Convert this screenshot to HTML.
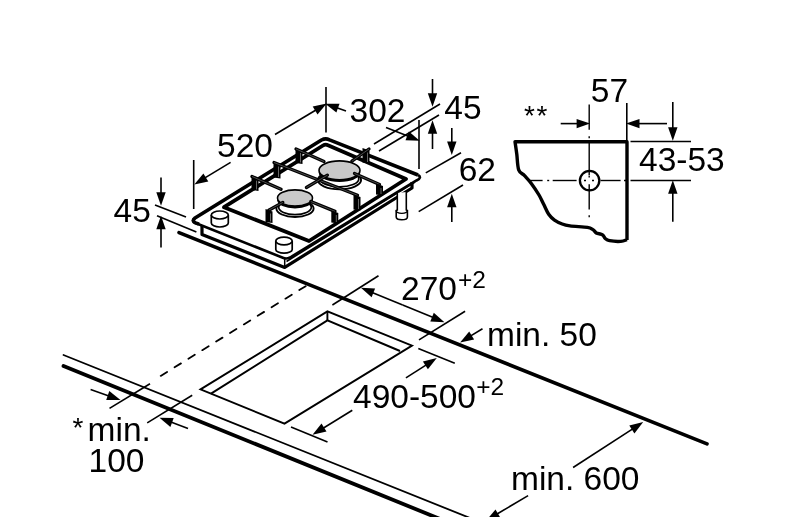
<!DOCTYPE html>
<html><head><meta charset="utf-8"><style>
html,body{margin:0;padding:0;background:#fff;}
svg{display:block;will-change:transform;}
text{font-family:"Liberation Sans",sans-serif;fill:#000;stroke:none;}
</style></head><body>
<svg width="800" height="517" viewBox="0 0 800 517" stroke="#000" stroke-linecap="butt">
<rect width="800" height="517" fill="#fff" stroke="none"/>
<line x1="179.0" y1="232.6" x2="707.0" y2="443.8" stroke-width="3.6" stroke-linecap="round"/>
<line x1="63.5" y1="355.0" x2="480.0" y2="522.0" stroke-width="1.8" stroke-linecap="round"/>
<line x1="63.5" y1="366.0" x2="445.0" y2="521.0" stroke-width="3.8" stroke-linecap="round"/>
<line x1="160.7" y1="375.9" x2="306.7" y2="285.5" stroke-width="1.8" stroke-dasharray="7.5 8.8" stroke-linecap="round"/>
<line x1="155.0" y1="205.0" x2="186.0" y2="217.0" stroke-width="1.6" />
<line x1="157.0" y1="215.8" x2="196.4" y2="231.9" stroke-width="1.6" />
<line x1="161.0" y1="177.5" x2="161.0" y2="194.3" stroke-width="1.6"/>
<polygon points="161.0,205.8 156.3,192.3 165.7,192.3" fill="#000" stroke="none"/>
<line x1="161.0" y1="247.5" x2="161.0" y2="227.2" stroke-width="1.6"/>
<polygon points="161.0,215.7 165.7,229.2 156.3,229.2" fill="#000" stroke="none"/>
<text x="113.6" y="222.2" font-size="33.5" >45</text>
<line x1="193.7" y1="160.0" x2="193.7" y2="209.0" stroke-width="1.6" />
<line x1="230.6" y1="162.4" x2="204.1" y2="178.4" stroke-width="1.6"/>
<polygon points="194.3,184.4 203.4,173.4 208.3,181.4" fill="#000" stroke="none"/>
<line x1="275.0" y1="134.5" x2="316.8" y2="109.5" stroke-width="1.6"/>
<polygon points="326.7,103.6 317.5,114.6 312.7,106.5" fill="#000" stroke="none"/>
<line x1="326.0" y1="87.0" x2="326.0" y2="132.5" stroke-width="1.6" />
<line x1="346.0" y1="111.0" x2="336.1" y2="107.5" stroke-width="1.6"/>
<polygon points="325.2,103.7 339.5,103.8 336.4,112.6" fill="#000" stroke="none"/>
<text x="217" y="157.4" font-size="33.5" >520</text>
<text x="349.5" y="122.2" font-size="33.5" >302</text>
<line x1="374.0" y1="144.0" x2="440.0" y2="104.0" stroke-width="1.6" />
<line x1="379.0" y1="151.0" x2="439.0" y2="115.0" stroke-width="1.6" />
<line x1="432.5" y1="79.0" x2="432.5" y2="95.3" stroke-width="1.6"/>
<polygon points="432.5,106.8 427.8,93.3 437.2,93.3" fill="#000" stroke="none"/>
<line x1="432.5" y1="149.0" x2="432.5" y2="131.7" stroke-width="1.6"/>
<polygon points="432.5,120.2 437.2,133.7 427.8,133.7" fill="#000" stroke="none"/>
<line x1="419.0" y1="120.0" x2="419.0" y2="169.0" stroke-width="1.6" />
<line x1="386.0" y1="127.5" x2="409.0" y2="136.6" stroke-width="1.6"/>
<polygon points="419.7,140.8 405.5,140.2 408.9,131.5" fill="#000" stroke="none"/>
<text x="444.3" y="119" font-size="33.5" >45</text>
<line x1="425.8" y1="172.9" x2="461.0" y2="152.8" stroke-width="1.6" />
<line x1="418.7" y1="211.6" x2="463.0" y2="185.0" stroke-width="1.6" />
<line x1="451.8" y1="128.0" x2="451.8" y2="143.6" stroke-width="1.6"/>
<polygon points="451.8,155.1 447.1,141.6 456.5,141.6" fill="#000" stroke="none"/>
<line x1="451.8" y1="222.0" x2="451.8" y2="205.2" stroke-width="1.6"/>
<polygon points="451.8,193.7 456.5,207.2 447.1,207.2" fill="#000" stroke="none"/>
<text x="458.7" y="181.2" font-size="33.5" >62</text>
<text x="590.8" y="101.5" font-size="33.5" >57</text>
<text x="524" y="124.5" font-size="28" letter-spacing="1.6">**</text>
<line x1="560.7" y1="123.6" x2="578.6" y2="123.6" stroke-width="1.6"/>
<polygon points="590.1,123.6 576.6,128.3 576.6,118.9" fill="#000" stroke="none"/>
<line x1="626.8" y1="103.0" x2="626.8" y2="141.0" stroke-width="1.6" />
<line x1="667.0" y1="123.6" x2="637.5" y2="123.6" stroke-width="1.6"/>
<polygon points="626.0,123.6 639.5,118.9 639.5,128.3" fill="#000" stroke="none"/>
<line x1="672.8" y1="102.0" x2="672.8" y2="129.3" stroke-width="1.6"/>
<polygon points="672.8,140.8 668.1,127.3 677.5,127.3" fill="#000" stroke="none"/>
<line x1="630.5" y1="141.5" x2="691.0" y2="141.5" stroke-width="1.6" />
<line x1="630.5" y1="180.5" x2="691.0" y2="180.5" stroke-width="1.6" />
<line x1="672.8" y1="221.8" x2="672.8" y2="191.7" stroke-width="1.6"/>
<polygon points="672.8,180.2 677.5,193.7 668.1,193.7" fill="#000" stroke="none"/>
<text x="639" y="171.4" font-size="33.5" >43-53</text>
<path d="M627,240 L627,141.7 L515,141.7  C515.3,143.8 516.2,149.6 516.8,154.3 C517.4,159.0 517.4,166.2 518.7,169.8 C520.0,173.4 522.4,173.3 524.5,175.6 C526.6,177.9 528.9,180.2 531.3,183.4 C533.7,186.6 536.9,191.5 539.0,195.0 C541.1,198.5 542.2,201.4 543.8,204.6 C545.4,207.8 546.9,211.7 548.7,214.3 C550.5,216.9 552.2,218.5 554.5,220.1 C556.8,221.7 559.6,223.0 562.2,224.0 C564.8,225.0 565.8,225.3 570.0,225.9 C574.2,226.5 583.6,226.8 587.4,227.4 C591.2,228.0 591.4,228.7 592.9,229.6 C594.4,230.5 595.0,232.2 596.3,233.0 C597.6,233.8 599.6,233.7 600.7,234.1 C601.8,234.5 602.2,234.5 603.0,235.2 C603.8,235.9 604.1,237.6 605.2,238.5 C606.3,239.4 607.0,240.2 609.6,240.7 C612.2,241.2 617.9,241.6 620.8,241.4 C623.7,241.2 626.0,239.9 627.0,239.6" fill="none" stroke-width="3.4" stroke-linejoin="round"/>
<line x1="529.0" y1="180.5" x2="542.6" y2="180.5" stroke-width="1.4" />
<line x1="552.7" y1="180.5" x2="576.6" y2="180.5" stroke-width="1.4" />
<line x1="600.5" y1="180.5" x2="620.6" y2="180.5" stroke-width="1.4" />
<line x1="547.2" y1="180.5" x2="549.2" y2="180.5" stroke-width="1.4" />
<line x1="584.0" y1="180.5" x2="586.0" y2="180.5" stroke-width="1.4" />
<line x1="592.0" y1="180.5" x2="594.0" y2="180.5" stroke-width="1.4" />
<line x1="624.0" y1="180.5" x2="626.0" y2="180.5" stroke-width="1.4" />
<line x1="589.2" y1="104.5" x2="589.2" y2="129.7" stroke-width="1.4" />
<line x1="589.2" y1="141.5" x2="589.2" y2="175.0" stroke-width="1.4" />
<line x1="589.2" y1="184.3" x2="589.2" y2="209.4" stroke-width="1.4" />
<line x1="589.2" y1="136.2" x2="589.2" y2="138.2" stroke-width="1.4" />
<line x1="589.2" y1="175.5" x2="589.2" y2="177.5" stroke-width="1.4" />
<line x1="589.2" y1="215.2" x2="589.2" y2="217.2" stroke-width="1.4" />
<circle cx="589.6" cy="180.6" r="9.7" fill="none" stroke-width="2.3"/>
<polygon points="200.5,389.4 327.4,311.4 412.0,345.6 284.5,423.6" fill="none" stroke-width="1.9" stroke-linejoin="miter"/>
<polyline points="211.0,393.6 327.4,320.4 400.0,351.0" fill="none" stroke-width="1.9" />
<line x1="327.4" y1="311.4" x2="327.4" y2="320.4" stroke-width="1.9" />
<line x1="332.4" y1="305.0" x2="378.5" y2="275.8" stroke-width="1.6" />
<line x1="419.0" y1="339.9" x2="465.1" y2="311.3" stroke-width="1.6" />
<line x1="402.7" y1="305.0" x2="371.5" y2="292.2" stroke-width="1.6"/>
<polygon points="360.9,287.8 375.1,288.6 371.6,297.3" fill="#000" stroke="none"/>
<line x1="402.7" y1="305.0" x2="433.9" y2="317.8" stroke-width="1.6"/>
<polygon points="444.5,322.2 430.3,321.4 433.8,312.7" fill="#000" stroke="none"/>
<text x="401" y="300.2" font-size="33.5" >270</text>
<text x="458" y="288" font-size="24.5" >+2</text>
<line x1="482.5" y1="328.8" x2="469.9" y2="336.4" stroke-width="1.6"/>
<polygon points="460.1,342.4 469.2,331.4 474.1,339.4" fill="#000" stroke="none"/>
<text x="487" y="346.3" font-size="33.5" >min. 50</text>
<line x1="418.3" y1="348.4" x2="454.8" y2="363.3" stroke-width="1.6" />
<line x1="291.0" y1="427.0" x2="327.5" y2="442.0" stroke-width="1.6" />
<line x1="405.9" y1="377.8" x2="427.1" y2="364.3" stroke-width="1.6"/>
<polygon points="436.8,358.1 427.9,369.3 422.9,361.4" fill="#000" stroke="none"/>
<line x1="352.3" y1="410.2" x2="322.3" y2="428.7" stroke-width="1.6"/>
<polygon points="312.5,434.7 321.5,423.6 326.5,431.6" fill="#000" stroke="none"/>
<text x="353" y="408" font-size="33.5" >490-500</text>
<text x="476.2" y="395" font-size="24.5" >+2</text>
<line x1="109.5" y1="408.4" x2="150.0" y2="383.7" stroke-width="1.6" />
<line x1="90.6" y1="389.5" x2="109.6" y2="396.2" stroke-width="1.6"/>
<polygon points="120.5,400.0 106.2,399.9 109.3,391.1" fill="#000" stroke="none"/>
<line x1="147.2" y1="422.9" x2="192.2" y2="395.3" stroke-width="1.6" />
<line x1="188.0" y1="428.5" x2="170.2" y2="421.8" stroke-width="1.6"/>
<polygon points="159.5,417.7 173.7,418.1 170.4,426.9" fill="#000" stroke="none"/>
<text x="72.5" y="436.5" font-size="28" >*</text>
<text x="87.6" y="440.7" font-size="33.5" >min.</text>
<text x="88.6" y="472.2" font-size="33.5" >100</text>
<polyline points="202.0,225.5 202.0,234.5 284.7,267.4 412.0,188.0 412.0,182.0" fill="none" stroke-width="3.2" stroke-linejoin="round"/>
<line x1="284.7" y1="259.0" x2="284.7" y2="266.0" stroke-width="1.5" />
<polyline points="286.5,261.5 415.0,182.0" fill="none" stroke-width="1.5" />
<path d="M194,218.8 Q191.5,221.5 195.5,223 L283.5,258 Q286.5,259.2 290,257.5 L416.5,180.5 Q422.5,177.5 418,175" fill="none" stroke-width="2.6" />
<path d="M199,224.2 L195.5,222.8 Q191.3,220.8 195,218 L321.5,140 Q325.5,137.8 329.5,139.8 L418,175" fill="none" stroke-width="3.6" stroke-linejoin="round"/>
<path d="M224,207.2 L323,145.5 Q325.5,144 328,145.2 L406,179 L309,241 Z" fill="none" stroke-width="3.8" stroke-linejoin="round"/>
<path d="M397.3,193 L397.3,210 L396.2,210.5 L396.2,217 A5.6,2.8 0 0 0 407.4,217 L407.4,210.5 L406.3,210 L406.3,192" fill="#fff" stroke-width="1.6" />
<path d="M396.2,210.5 A5.6,2.8 0 0 0 407.4,210.5" fill="none" stroke-width="1.3" />
<path d="M211.3,215 L211.3,223 A8.5,4 0 0 0 228.3,223 L228.3,215" fill="#fff" stroke-width="1.7" />
<ellipse cx="219.8" cy="215" rx="8.5" ry="4" fill="#fff" stroke-width="1.7"/>
<path d="M275.8,241 L275.8,249.4 A8.2,3.8 0 0 0 292.2,249.4 L292.2,241" fill="#fff" stroke-width="1.7" />
<ellipse cx="284" cy="241" rx="8.2" ry="3.8" fill="#fff" stroke-width="1.7"/>
<ellipse cx="339.5" cy="180.10000000000002" rx="21.6" ry="9.2" fill="#fff" stroke-width="1.9"/>
<ellipse cx="339.5" cy="178.9" rx="19.3" ry="7.999999999999999" fill="#fff" stroke-width="1.7"/>
<ellipse cx="339.5" cy="172.60000000000002" rx="20.8" ry="9.4" fill="#000" stroke="none"/>
<ellipse cx="339.5" cy="170.3" rx="20.5" ry="9.4" fill="#c9c9c9" stroke-width="1.6"/>
<ellipse cx="295" cy="208.5" rx="18.6" ry="8.5" fill="#fff" stroke-width="1.9"/>
<ellipse cx="295" cy="207.29999999999998" rx="16.3" ry="7.3" fill="#fff" stroke-width="1.7"/>
<ellipse cx="295" cy="200.3" rx="17.8" ry="8.1" fill="#000" stroke="none"/>
<ellipse cx="295" cy="198" rx="17.5" ry="8.1" fill="#c9c9c9" stroke-width="1.6"/>
<polygon points="251.5,176.0 258.5,178.5 258.5,191.0 251.5,190.0" fill="#000" stroke="none"/>
<line x1="256.5" y1="180.5" x2="256.5" y2="189.5" stroke-width="0.6" stroke="#aaa"/>
<polyline points="252.0,176.5 281.0,189.3" fill="none" stroke-width="3.3" stroke-linejoin="round" stroke-linecap="round"/>
<polyline points="252.0,176.5 281.0,189.3" fill="none" stroke-width="0.5" stroke="#999"/>
<polygon points="273.5,162.0 280.5,164.5 280.5,178.5 273.5,177.5" fill="#000" stroke="none"/>
<line x1="278.5" y1="166.5" x2="278.5" y2="177.0" stroke-width="0.6" stroke="#aaa"/>
<polyline points="274.0,162.5 357.5,195.3" fill="none" stroke-width="3.3" stroke-linejoin="round" stroke-linecap="round"/>
<polyline points="274.0,162.5 357.5,195.3" fill="none" stroke-width="0.5" stroke="#999"/>
<polygon points="353.5,194.5 360.5,197.0 360.5,210.5 353.5,209.5" fill="#000" stroke="none"/>
<line x1="358.5" y1="199.0" x2="358.5" y2="209.0" stroke-width="0.6" stroke="#aaa"/>
<polygon points="295.5,148.5 302.5,151.0 302.5,164.0 295.5,163.0" fill="#000" stroke="none"/>
<line x1="300.5" y1="153.0" x2="300.5" y2="162.5" stroke-width="0.6" stroke="#aaa"/>
<polyline points="296.0,149.0 324.0,161.5" fill="none" stroke-width="3.3" stroke-linejoin="round" stroke-linecap="round"/>
<polyline points="296.0,149.0 324.0,161.5" fill="none" stroke-width="0.5" stroke="#999"/>
<polygon points="362.5,148.0 369.5,150.5 369.5,163.5 362.5,162.5" fill="#000" stroke="none"/>
<line x1="367.5" y1="152.5" x2="367.5" y2="162.0" stroke-width="0.6" stroke="#aaa"/>
<polyline points="369.0,149.0 351.9,161.2" fill="none" stroke-width="3.3" stroke-linejoin="round" stroke-linecap="round"/>
<polyline points="369.0,149.0 351.9,161.2" fill="none" stroke-width="0.5" stroke="#999"/>
<polyline points="354.5,173.5 379.5,184.4" fill="none" stroke-width="3.3" stroke-linejoin="round" stroke-linecap="round"/>
<polyline points="354.5,173.5 379.5,184.4" fill="none" stroke-width="0.5" stroke="#999"/>
<polygon points="376.0,183.5 383.0,186.0 383.0,195.5 376.0,194.5" fill="#000" stroke="none"/>
<line x1="381.0" y1="188.0" x2="381.0" y2="194.0" stroke-width="0.6" stroke="#aaa"/>
<polyline points="327.4,175.2 306.4,187.5" fill="none" stroke-width="3.3" stroke-linejoin="round" stroke-linecap="round"/>
<polyline points="327.4,175.2 306.4,187.5" fill="none" stroke-width="0.5" stroke="#999"/>
<polyline points="310.8,201.5 335.0,211.4" fill="none" stroke-width="3.3" stroke-linejoin="round" stroke-linecap="round"/>
<polyline points="310.8,201.5 335.0,211.4" fill="none" stroke-width="0.5" stroke="#999"/>
<polygon points="331.3,210.5 338.3,213.0 338.3,223.5 331.3,222.5" fill="#000" stroke="none"/>
<line x1="336.3" y1="215.0" x2="336.3" y2="222.0" stroke-width="0.6" stroke="#aaa"/>
<polyline points="282.8,202.4 268.8,210.2" fill="none" stroke-width="3.3" stroke-linejoin="round" stroke-linecap="round"/>
<polyline points="282.8,202.4 268.8,210.2" fill="none" stroke-width="0.5" stroke="#999"/>
<polygon points="265.5,209.0 272.5,211.5 272.5,223.0 265.5,222.0" fill="#000" stroke="none"/>
<line x1="270.5" y1="213.5" x2="270.5" y2="221.5" stroke-width="0.6" stroke="#aaa"/>
<line x1="573.1" y1="467.5" x2="633.5" y2="428.3" stroke-width="1.6"/>
<polygon points="643.2,422.1 634.4,433.4 629.3,425.5" fill="#000" stroke="none"/>
<line x1="528.1" y1="495.6" x2="496.2" y2="514.5" stroke-width="1.6"/>
<polygon points="486.3,520.4 495.5,509.5 500.3,517.6" fill="#000" stroke="none"/>
<text x="511" y="490" font-size="33.5" >min. 600</text>
</svg></body></html>
